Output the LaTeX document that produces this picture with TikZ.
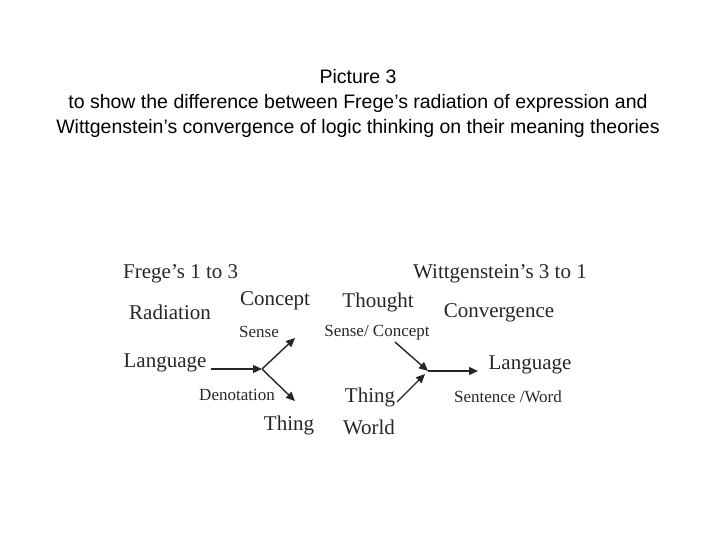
\documentclass[tikz,border=0pt]{standalone}
\usepackage{fontspec}
\setmainfont{Liberation Serif}
\newfontfamily\arialf{Liberation Sans}
\usetikzlibrary{arrows.meta}
\begin{document}
\begin{tikzpicture}[x=1pt,y=-1pt,
  big/.style={font=\fontsize{21}{23}\selectfont,inner sep=0pt,text=black!85},
  small/.style={font=\fontsize{17}{19}\selectfont,inner sep=0pt,text=black!85},
  arr/.style={-{Triangle[length=9pt,width=8pt]},line width=1.4pt,black!85}]
\useasboundingbox (0,0) rectangle (720,540);
\node[font=\arialf\fontsize{19.5}{25}\selectfont,align=center] (title) at (358,103)
 {Picture 3\\to show the difference between Frege’s radiation of expression and\\Wittgenstein’s convergence of logic thinking on their meaning theories};
\node[big,anchor=west] (fh) at (123,274) {Frege’s 1 to 3};
\node[big,anchor=west] (wh) at (413,274) {Wittgenstein’s 3 to 1};
\node[big] (rad) at (170,312) {Radiation};
\node[big] (con) at (275,301) {Concept};
\node[big] (tho) at (378,302) {Thought};
\node[big] (cnv) at (499,313) {Convergence};
\node[small] (sen) at (259,332) {Sense};
\node[small] (sc) at (377,333) {Sense/ Concept};
\node[big] (lang1) at (165,363) {Language};
\node[big] (lang2) at (530,365) {Language};
\node[small] (den) at (237,395) {Denotation};
\node[small] (sw) at (508,397) {Sentence /Word};
\node[big] (th1) at (289,425) {Thing};
\node[big] (th2) at (370,397) {Thing};
\node[big] (wor) at (369,427) {World};
\coordinate (b1) at (262,369);
\coordinate (c1) at (295,338);
\coordinate (d1) at (295,401);
\coordinate (b2) at (428,371);
\coordinate (e2) at (478,371);
\draw[arr] (211,369) -- (b1);
\draw[arr] (b1) -- (c1);
\draw[arr] (b1) -- (d1);
\draw[arr] (395,342) -- (b2);
\draw[arr] (397,402) -- (425,374);
\draw[arr] (b2) -- (e2);
\end{tikzpicture}
\end{document}
